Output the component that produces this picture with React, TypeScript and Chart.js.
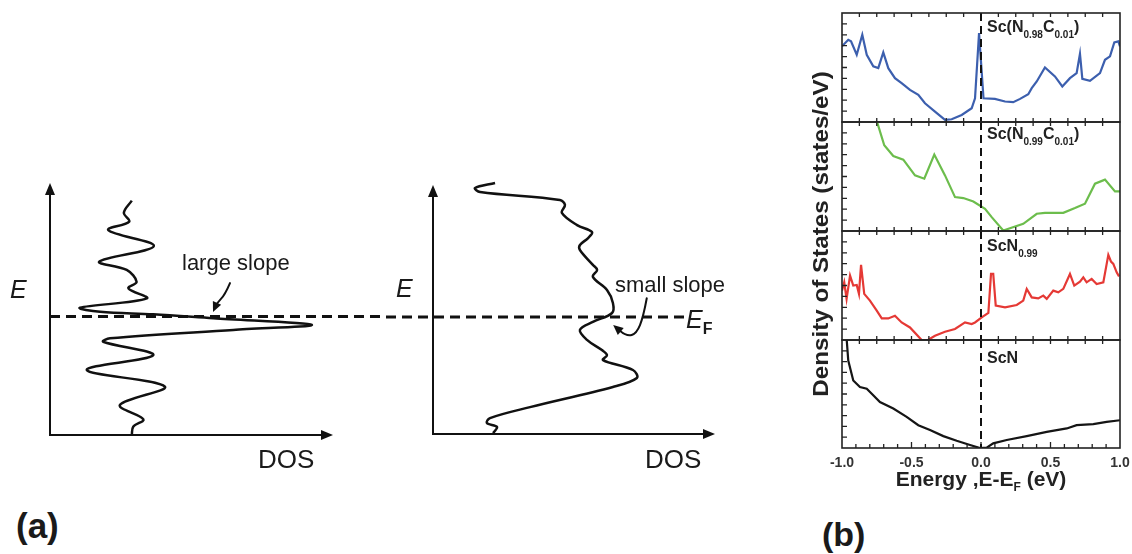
import React, { useEffect, useRef } from 'react';
import { Chart, registerables } from 'chart.js';

Chart.register(...registerables);

// ---------- Panel (a): schematic DOS curves (DOS along x, E along y, arbitrary units 0-100)
const LEFT_E = [93.0, 88.2, 84.7, 81.3, 75.0, 68.8, 65.5, 60.8, 58.2, 54.2, 50.5, 48.9, 47.9, 46.3, 43.7, 41.7, 38.4, 37.0, 31.7, 25.8, 19.2, 11.9, 6.2, 3.3, 0];
const LEFT_DOS = [28.9, 26.1, 28.0, 20.6, 36.7, 17.4, 27.1, 30.6, 27.7, 34.2, 10.6, 17.7, 36.5, 57.7, 92.5, 64.8, 21.2, 18.8, 36.5, 13.0, 40.6, 24.7, 33.0, 29.4, 28.9];

const RIGHT_E = [100.8, 98.8, 97.2, 94.0, 92.0, 88.8, 83.9, 81.1, 78.7, 75.9, 73.9, 67.9, 65.9, 63.1, 57.8, 52.6, 48.6, 45.0, 41.8, 37.8, 33.7, 31.7, 29.7, 25.7, 22.5, 18.9, 10.8, 6.4, 4.4, 2.8, 0.4];
const RIGHT_DOS = [22.0, 14.9, 16.7, 45.0, 46.8, 45.7, 51.1, 56.4, 55.0, 52.1, 52.1, 56.7, 58.2, 56.7, 61.7, 63.8, 63.5, 56.7, 52.1, 54.6, 59.9, 61.7, 60.3, 70.9, 72.3, 63.8, 34.4, 20.2, 19.1, 22.7, 21.3];

const E_FERMI = 47;
const RIGHT_EF_LINE_END = 89.4;

const LARGE_ARROW_DOS = [63.6, 61.8, 59.0, 57.6];
const LARGE_ARROW_E = [60.3, 55.6, 52.4, 48.8];
const SMALL_ARROW_DOS = [75.8, 74.6, 72.2, 68.7, 63.9];
const SMALL_ARROW_E = [54.5, 47.1, 40.4, 39.1, 43.8];

// ---------- Panel (b): DOS (states/eV, arbitrary 0-10 per panel) vs E-EF (eV)
const X_TICKS = [-1.0, -0.5, 0.0, 0.5, 1.0];

const N098_E = [-1.0, -0.955, -0.935, -0.894, -0.854, -0.822, -0.775, -0.739, -0.703, -0.667, -0.619, -0.571, -0.511, -0.451, -0.403, -0.331, -0.259, -0.211, -0.139, -0.067, -0.043, -0.014, 0.018, 0.10, 0.173, 0.232, 0.281, 0.340, 0.365, 0.401, 0.460, 0.532, 0.585, 0.640, 0.688, 0.712, 0.729, 0.784, 0.856, 0.892, 0.928, 0.959, 0.988, 1.0];
const N098_DOS = [6.94, 7.54, 7.40, 6.17, 8.00, 6.17, 5.10, 4.94, 6.39, 4.94, 4.02, 3.56, 2.95, 2.49, 1.72, 0.96, 0.19, 0.25, 0.65, 1.26, 2.18, 8.16, 2.18, 2.12, 1.88, 1.82, 2.12, 2.55, 3.10, 3.72, 5.01, 4.18, 3.26, 4.02, 4.48, 6.26, 3.96, 3.77, 4.48, 5.71, 6.02, 7.31, 7.40, 6.94];

const N099C_E = [-0.750, -0.696, -0.631, -0.559, -0.475, -0.408, -0.336, -0.259, -0.187, -0.127, -0.055, 0.029, 0.077, 0.160, 0.304, 0.401, 0.460, 0.592, 0.676, 0.748, 0.820, 0.892, 0.964, 1.0];
const N099C_DOS = [10.1, 7.86, 6.88, 6.55, 5.10, 4.80, 7.01, 5.10, 3.11, 3.02, 2.71, 2.04, 1.27, 0.05, 0.66, 1.58, 1.67, 1.67, 2.10, 2.50, 4.34, 4.71, 3.63, 3.63];

const N099_E = [-1.0, -0.984, -0.967, -0.942, -0.919, -0.894, -0.878, -0.863, -0.840, -0.799, -0.750, -0.714, -0.667, -0.619, -0.571, -0.511, -0.427, -0.379, -0.331, -0.259, -0.187, -0.115, -0.067, -0.043, 0.005, 0.053, 0.072, 0.088, 0.106, 0.173, 0.257, 0.304, 0.329, 0.365, 0.412, 0.448, 0.473, 0.520, 0.556, 0.592, 0.640, 0.671, 0.712, 0.736, 0.760, 0.796, 0.832, 0.880, 0.916, 0.935, 0.952, 0.976, 0.993];
const N099_DOS = [4.53, 5.29, 3.77, 5.91, 4.99, 5.05, 4.23, 6.89, 4.23, 3.61, 2.69, 1.98, 1.98, 2.23, 1.61, 1.15, 0.0, 0.02, 0.39, 0.76, 1.01, 1.61, 1.47, 1.61, 2.07, 2.48, 6.06, 6.06, 3.15, 2.99, 3.21, 3.61, 4.69, 3.91, 3.82, 4.07, 3.77, 4.53, 4.37, 4.69, 6.06, 4.99, 5.36, 5.75, 5.29, 5.60, 5.14, 5.29, 7.81, 7.20, 6.98, 6.21, 5.84];

const SCN_E = [-0.966, -0.955, -0.919, -0.871, -0.822, -0.786, -0.727, -0.631, -0.535, -0.451, -0.367, -0.271, -0.175, -0.079, -0.007, 0.041, 0.088, 0.185, 0.329, 0.473, 0.617, 0.688, 0.808, 0.904, 1.0];
const SCN_DOS = [10.0, 8.09, 6.25, 5.64, 5.49, 5.03, 4.26, 3.65, 2.88, 2.11, 1.66, 1.10, 0.67, 0.28, 0.0, 0.03, 0.43, 0.74, 1.10, 1.50, 1.81, 2.11, 2.21, 2.42, 2.57];

const FONT = "'Liberation Sans', Arial, Helvetica, sans-serif";

type Pad = { left: number; right: number; top: number; bottom: number };

function baseOptions(pad: Pad, xr: [number, number], yr: [number, number]): any {
  return {
    responsive: false,
    animation: false,
    events: [],
    layout: { padding: pad },
    plugins: { legend: { display: false }, tooltip: { enabled: false } },
    scales: {
      x: { type: 'linear', display: false, min: xr[0], max: xr[1] },
      y: { type: 'linear', display: false, min: yr[0], max: yr[1] },
    },
  };
}

function toPoints(xs: number[], ys: number[]) {
  return xs.map((x, i) => ({ x, y: ys[i] }));
}

function drawHead(ctx: CanvasRenderingContext2D, tipX: number, tipY: number, fromX: number, fromY: number, len: number, half: number) {
  const a = Math.atan2(tipY - fromY, tipX - fromX);
  ctx.beginPath();
  ctx.moveTo(tipX, tipY);
  ctx.lineTo(tipX - len * Math.cos(a) + half * Math.sin(a), tipY - len * Math.sin(a) - half * Math.cos(a));
  ctx.lineTo(tipX - len * Math.cos(a) - half * Math.sin(a), tipY - len * Math.sin(a) + half * Math.cos(a));
  ctx.closePath();
  ctx.fill();
}

function schematicPlugin(side: 'left' | 'right', arrowDos: number[], arrowE: number[]) {
  return {
    id: 'schematic-' + side,
    beforeDatasetsDraw(chart: any) {
      const { ctx, scales, width } = chart;
      const xs = scales.x, ys = scales.y;
      const x0 = xs.getPixelForValue(0), y0 = ys.getPixelForValue(0);
      const xMax = xs.getPixelForValue(100), yMax = ys.getPixelForValue(100);
      ctx.save();
      ctx.strokeStyle = '#111';
      ctx.fillStyle = '#111';
      ctx.lineWidth = 2;
      ctx.beginPath();
      ctx.moveTo(x0, y0 + 1);
      ctx.lineTo(x0, yMax + 8);
      ctx.moveTo(x0 - 1, y0);
      ctx.lineTo(xMax - 8, y0);
      ctx.stroke();
      drawHead(ctx, x0, yMax, x0, yMax + 10, 12, 5);
      drawHead(ctx, xMax, y0, xMax - 10, y0, 12, 5);
      // Fermi level dashed line
      const yf = ys.getPixelForValue(E_FERMI);
      ctx.lineWidth = 3;
      ctx.setLineDash([10, 6]);
      ctx.beginPath();
      if (side === 'left') {
        ctx.moveTo(x0, yf);
        ctx.lineTo(width, yf);
      } else {
        ctx.lineDashOffset = 10;
        ctx.moveTo(0, yf);
        ctx.lineTo(xs.getPixelForValue(RIGHT_EF_LINE_END), yf);
      }
      ctx.stroke();
      ctx.restore();
    },
    afterDatasetsDraw(chart: any) {
      const { ctx, scales } = chart;
      const pts = arrowDos.map((d, i) => [scales.x.getPixelForValue(d), scales.y.getPixelForValue(arrowE[i])]);
      ctx.save();
      ctx.strokeStyle = '#111';
      ctx.fillStyle = '#111';
      ctx.lineWidth = 2;
      ctx.lineCap = 'round';
      ctx.lineJoin = 'round';
      ctx.beginPath();
      ctx.moveTo(pts[0][0], pts[0][1]);
      for (let i = 1; i < pts.length - 1; i++) {
        const mx = (pts[i][0] + pts[i + 1][0]) / 2, my = (pts[i][1] + pts[i + 1][1]) / 2;
        ctx.quadraticCurveTo(pts[i][0], pts[i][1], mx, my);
      }
      const n = pts.length;
      const tip = pts[n - 1], prev = pts[n - 2];
      const a = Math.atan2(tip[1] - prev[1], tip[0] - prev[0]);
      ctx.lineTo(tip[0] - 6 * Math.cos(a), tip[1] - 6 * Math.sin(a));
      ctx.stroke();
      drawHead(ctx, tip[0], tip[1], prev[0], prev[1], 10, 4.5);
      ctx.restore();
    },
  };
}

function panelPlugin(isBottom: boolean) {
  return {
    id: 'panel-frame',
    afterDatasetsDraw(chart: any) {
      const { ctx, chartArea, scales } = chart;
      const { left, right, top, bottom } = chartArea;
      const xs = scales.x, ys = scales.y;
      ctx.save();
      ctx.strokeStyle = '#222';
      ctx.lineWidth = 1.3;
      ctx.beginPath();
      for (let v = 1; v <= 9; v++) {
        const y = ys.getPixelForValue(v);
        ctx.moveTo(left, y);
        ctx.lineTo(left + 5, y);
      }
      for (let k = 1; k < 16; k++) {
        const x = xs.getPixelForValue(-1 + k * 0.125);
        ctx.moveTo(x, top);
        ctx.lineTo(x, top + 4);
        if (!isBottom) {
          ctx.moveTo(x, bottom);
          ctx.lineTo(x, bottom - 4);
        }
      }
      if (isBottom) {
        for (let k = 1; k < 20; k++) {
          const x = xs.getPixelForValue(-1 + k * 0.1);
          ctx.moveTo(x, bottom);
          ctx.lineTo(x, bottom - (k % 5 === 0 ? 6 : 4));
        }
      }
      ctx.stroke();
      // vertical dashed line at E = EF
      const x0 = xs.getPixelForValue(0);
      ctx.strokeStyle = '#111';
      ctx.lineWidth = 2;
      ctx.setLineDash([8, 5]);
      ctx.beginPath();
      ctx.moveTo(x0, top);
      ctx.lineTo(x0, bottom);
      ctx.stroke();
      ctx.setLineDash([]);
      ctx.strokeStyle = '#222';
      ctx.lineWidth = 1.6;
      ctx.strokeRect(left, top, right - left, bottom - top);
      if (isBottom) {
        ctx.fillStyle = '#333';
        ctx.font = `bold 14px ${FONT}`;
        ctx.textAlign = 'center';
        ctx.textBaseline = 'alphabetic';
        X_TICKS.forEach((v) => {
          ctx.fillText(v.toFixed(1), xs.getPixelForValue(v), bottom + 19);
        });
      }
      ctx.restore();
    },
  };
}

function ChartCanvas({ left, top, width, height, makeConfig }: { left: number; top: number; width: number; height: number; makeConfig: () => any }) {
  const ref = useRef<HTMLCanvasElement>(null);
  useEffect(() => {
    const chart = new Chart(ref.current as HTMLCanvasElement, makeConfig());
    return () => chart.destroy();
  }, []);
  return <canvas ref={ref} width={width} height={height} style={{ position: 'absolute', left, top, width, height }} />;
}

function schematicConfig(side: 'left' | 'right') {
  const isLeft = side === 'left';
  const pad = isLeft ? { left: 50, right: 47, top: 33, bottom: 55 } : { left: 53, right: 25, top: 35, bottom: 56 };
  return {
    type: 'scatter',
    data: {
      datasets: [
        {
          data: isLeft ? toPoints(LEFT_DOS, LEFT_E) : toPoints(RIGHT_DOS, RIGHT_E),
          showLine: true,
          borderColor: '#111',
          borderWidth: 2.5,
          pointRadius: 0,
          tension: 0.35,
          clip: false,
        },
      ],
    },
    options: baseOptions(pad, [0, 100], [0, 100]),
    plugins: [isLeft ? schematicPlugin('left', LARGE_ARROW_DOS, LARGE_ARROW_E) : schematicPlugin('right', SMALL_ARROW_DOS, SMALL_ARROW_E)],
  };
}

const PANELS = [
  { e: N098_E, dos: N098_DOS, color: '#3c5fae', top: 13, h: 109 },
  { e: N099C_E, dos: N099C_DOS, color: '#6cbd4c', top: 122, h: 109 },
  { e: N099_E, dos: N099_DOS, color: '#e53935', top: 231, h: 109 },
  { e: SCN_E, dos: SCN_DOS, color: '#151515', top: 340, h: 108 },
];

function panelConfig(i: number) {
  const p = PANELS[i];
  const isBottom = i === PANELS.length - 1;
  const pad = { left: 52, right: 12, top: 6, bottom: isBottom ? 50 : 6 };
  return {
    type: 'scatter',
    data: {
      datasets: [
        {
          data: toPoints(p.e, p.dos),
          showLine: true,
          borderColor: p.color,
          borderWidth: 2.2,
          pointRadius: 0,
          tension: 0,
        },
      ],
    },
    options: baseOptions(pad, [-1, 1], [0, 10]),
    plugins: [panelPlugin(isBottom)],
  };
}

const txt = (extra: React.CSSProperties): React.CSSProperties => ({
  position: 'absolute',
  fontFamily: FONT,
  lineHeight: 1,
  whiteSpace: 'nowrap',
  color: '#1a1a1a',
  ...extra,
});

function Sub({ children, size = 10, drop = 6 }: { children: React.ReactNode; size?: number; drop?: number }) {
  return <span style={{ fontSize: size, position: 'relative', top: drop }}>{children}</span>;
}

export default function App() {
  const labelStyle = (top: number) => txt({ left: 987, top, fontSize: 16, fontWeight: 'bold', color: '#222' });
  return (
    <div style={{ position: 'absolute', left: 0, top: 0, width: 1132, height: 554, background: '#fff', overflow: 'hidden' }}>
      <ChartCanvas left={0} top={150} width={380} height={340} makeConfig={() => schematicConfig('left')} />
      <ChartCanvas left={380} top={150} width={360} height={340} makeConfig={() => schematicConfig('right')} />
      {PANELS.map((p, i) => (
        <ChartCanvas key={i} left={790} top={p.top - 6} width={342} height={p.h + 12 + (i === 3 ? 44 : 0)} makeConfig={() => panelConfig(i)} />
      ))}

      <div style={txt({ left: 10, top: 277, fontSize: 25, fontStyle: 'italic' })}>E</div>
      <div style={txt({ left: 396, top: 276, fontSize: 25, fontStyle: 'italic' })}>E</div>
      <div style={txt({ left: 258, top: 446, fontSize: 26 })}>DOS</div>
      <div style={txt({ left: 645, top: 446, fontSize: 26 })}>DOS</div>
      <div style={txt({ left: 182, top: 252, fontSize: 22 })}>large slope</div>
      <div style={txt({ left: 615, top: 274, fontSize: 22 })}>small slope</div>
      <div style={txt({ left: 686, top: 307, fontSize: 25 })}>
        <span style={{ fontStyle: 'italic' }}>E</span>
        <span style={{ fontSize: 16, fontWeight: 'bold', position: 'relative', top: 6 }}>F</span>
      </div>
      <div style={txt({ left: 16, top: 508, fontSize: 35, fontWeight: 'bold' })}>(a)</div>
      <div style={txt({ left: 822, top: 517, fontSize: 34, fontWeight: 'bold' })}>(b)</div>

      <div style={labelStyle(19)}>
        Sc(N<Sub>0.98</Sub>C<Sub>0.01</Sub>)
      </div>
      <div style={labelStyle(126)}>
        Sc(N<Sub>0.99</Sub>C<Sub>0.01</Sub>)
      </div>
      <div style={labelStyle(238)}>
        ScN<Sub>0.99</Sub>
      </div>
      <div style={labelStyle(350)}>ScN</div>

      <div style={txt({ left: 781, top: 468, width: 400, textAlign: 'center', fontSize: 21, fontWeight: 'bold', color: '#222' })}>
        Energy ,E-E<Sub size={12} drop={5}>F</Sub> (eV)
      </div>
      <div
        style={txt({
          left: 821 - 200,
          top: 234 - 11,
          width: 400,
          height: 22,
          textAlign: 'center',
          fontSize: 22,
          fontWeight: 'bold',
          color: '#222',
          transform: 'rotate(-90deg) scaleX(1.1)',
          transformOrigin: '50% 50%',
        })}
      >
        Density of States (states/eV)
      </div>
    </div>
  );
}
